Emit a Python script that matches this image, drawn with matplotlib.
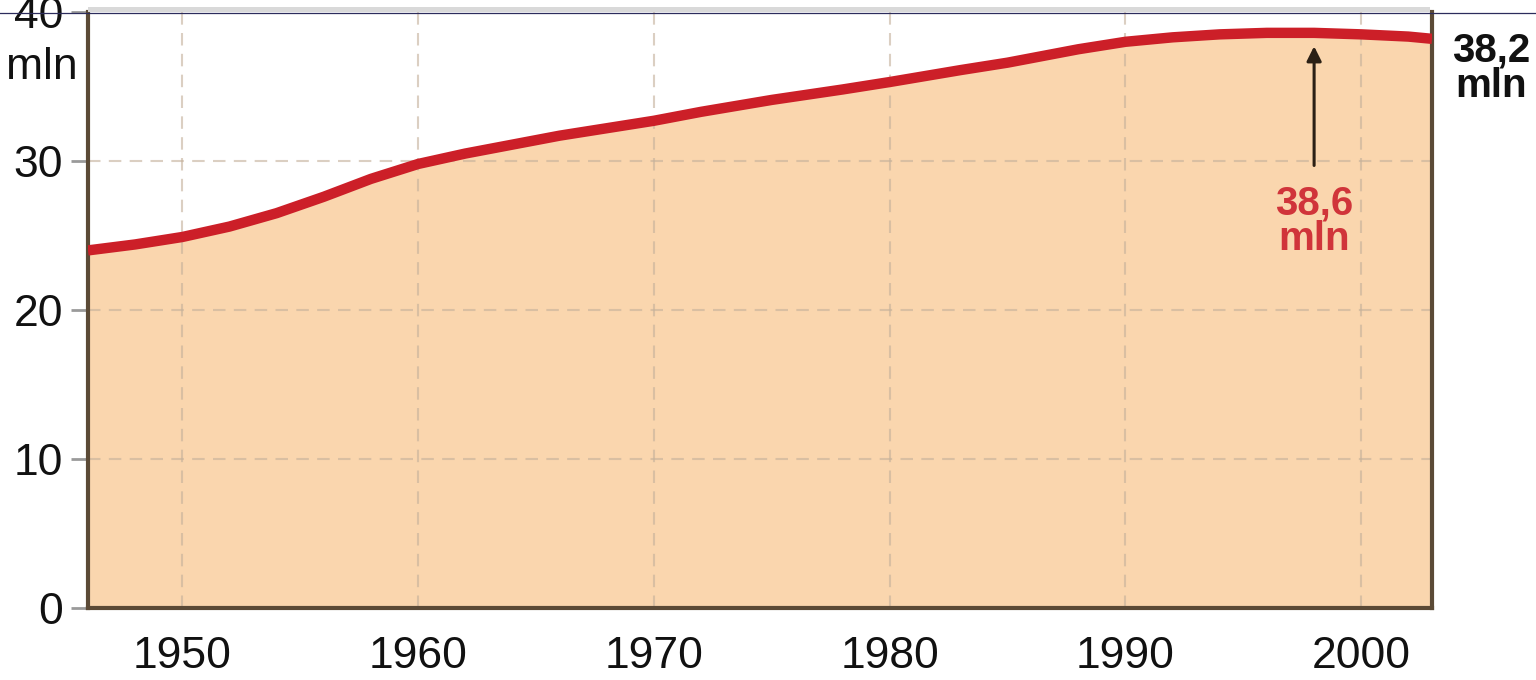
import matplotlib
matplotlib.use("Agg")
import matplotlib.pyplot as plt
from matplotlib.lines import Line2D
from matplotlib.patches import Rectangle

# Population, millions
years = [1946, 1948, 1950, 1952, 1954, 1956, 1958, 1960, 1962, 1964, 1966, 1968,
         1970, 1972, 1975, 1978, 1980, 1983, 1985, 1988, 1990, 1992, 1994, 1996,
         1998, 2000, 2002, 2003]
population = [24.0, 24.4, 24.9, 25.6, 26.5, 27.6, 28.8, 29.8, 30.5, 31.1, 31.7, 32.2,
              32.7, 33.3, 34.1, 34.8, 35.3, 36.1, 36.6, 37.5, 38.0, 38.3, 38.5, 38.6,
              38.6, 38.5, 38.35, 38.2]

x_ticks = [1950, 1960, 1970, 1980, 1990, 2000]
y_ticks = [0, 10, 20, 30, 40]
y_tick_labels = ["0", "10", "20", "30", "40"]

peak_year = 1998
peak_label = "38,6\nmln"
end_label = "38,2\nmln"

FONT = ["Liberation Sans", "DejaVu Sans"]
plt.rcParams["font.family"] = FONT

fig = plt.figure(figsize=(15.36, 6.8), dpi=100)
ax = fig.add_axes([88 / 1536, 1 - 608 / 680, (1432 - 88) / 1536, (608 - 12) / 680])

fill_color = "#fad6ae"
line_color = "#cc1f28"
spine_color = "#5b4a36"

ax.fill_between(years, population, 0, color=fill_color, zorder=1, linewidth=0)
ax.plot(years, population, color=line_color, lw=7.5, solid_capstyle="butt",
        solid_joinstyle="round", zorder=4)

ax.set_xlim(1946, 2003)
ax.set_ylim(0, 40)

# grid
for x in x_ticks:
    ax.axvline(x, color="#c4b09a", lw=1.5, ls=(0, (6, 4)), alpha=0.6, zorder=2)
for y in y_ticks[1:-1]:
    ax.axhline(y, color="#c4b09a", lw=1.5, ls=(0, (6, 4)), alpha=0.6, zorder=2)

ax.set_xticks(x_ticks)
ax.set_xticklabels([str(x) for x in x_ticks])
ax.set_yticks(y_ticks)
ax.set_yticklabels(y_tick_labels)
ax.tick_params(axis="x", length=0, pad=20, labelsize=32, labelcolor="#111111")
ax.tick_params(axis="y", length=12, width=2, color="#9a9a9a", pad=6,
               labelsize=32, labelcolor="#111111")

ax.text(-0.034, 36.3, "mln", transform=ax.get_yaxis_transform(), ha="center",
        va="center", fontsize=32, color="#111111", clip_on=False)
ax.text(1.044, 0.968, end_label, transform=ax.transAxes, ha="center", va="top",
        fontsize=29, fontweight="bold", color="#111111", linespacing=0.92,
        clip_on=False)

ax.annotate("", xy=(peak_year, 37.7), xytext=(peak_year, 29.7),
            arrowprops=dict(arrowstyle="-|>", color="#2b2015", lw=2.2,
                            mutation_scale=22, shrinkA=0, shrinkB=0), zorder=5)
ax.text(peak_year, 28.4, peak_label, ha="center", va="top", fontsize=29,
        fontweight="bold", color="#d0343a", linespacing=0.92, zorder=5)

for side in ("left", "bottom", "right"):
    ax.spines[side].set_color(spine_color)
    ax.spines[side].set_linewidth(3)
ax.spines["top"].set_visible(False)

# thin rule across the top and the grey band above the plot area
fig.add_artist(Line2D([0, 1], [1 - 13 / 680, 1 - 13 / 680], transform=fig.transFigure,
                      color="#2c2c5c", lw=0.9))
fig.add_artist(Rectangle((88 / 1536, 1 - 12 / 680), (1430 - 88) / 1536, 5 / 680,
                         transform=fig.transFigure, color="#d9d9d9", lw=0))

fig.savefig("out.png", dpi=100, facecolor="white")
